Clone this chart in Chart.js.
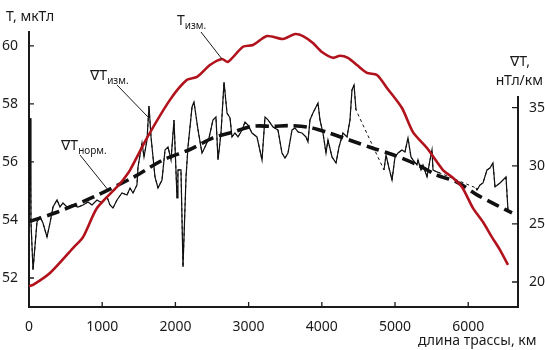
<!DOCTYPE html>
<html>
<head>
<meta charset="utf-8">
<script src="https://cdn.jsdelivr.net/npm/chart.js@4.4.0/dist/chart.umd.min.js"></script>
<style>
  body { margin: 0; background: #fff; }
  #wrap { width: 545px; height: 350px; }
</style>
</head>
<body>
<div id="wrap"><canvas id="chart" width="545" height="350"></canvas></div>
<script>
// Тизм. — измеренное поле, мкТл
var tKm = [0, 55, 287, 601, 738, 929, 1202, 1284, 1380, 1612, 1926, 2158, 2295, 2472, 2636, 2718, 2923, 3060,
  3251, 3470, 3634, 3743, 3879, 4002, 4153, 4248, 4357, 4480, 4617, 4754, 4890, 5095, 5245, 5437, 5655, 5778,
  5915, 6065, 6202, 6324, 6434, 6543];
var tMeasured = [51.72, 51.76, 52.17, 53.03, 53.41, 54.41, 55.14, 55.38, 55.72, 56.83, 58.14, 58.83, 58.93, 59.34,
  59.55, 59.45, 59.97, 60.03, 60.34, 60.24, 60.41, 60.34, 60.1, 59.79, 59.59, 59.66, 59.59, 59.34, 59.07, 59.0,
  58.55, 57.86, 57.03, 56.48, 55.72, 55.48, 55.14, 54.41, 53.93, 53.41, 52.97, 52.45];

// ∇Тизм. — измеренный градиент, нТл/км (null = пропуск в данных)
var gradKm = [0, 14, 27, 55, 109, 150, 191, 246, 287, 328, 383, 423, 464, 519, 587, 669, 738, 806, 861, 929, 997,
  1066, 1106, 1147, 1202, 1270, 1339, 1380, 1421, 1475, 1489, 1544, 1571, 1612, 1639, 1667, 1694, 1721, 1762,
  1817, 1858, 1899, 1940, 1981, 2022, 2035, 2076, 2104, 2145, 2172, 2227, 2254, 2309, 2363, 2404, 2459, 2513,
  2554, 2582, 2623, 2664, 2705, 2746, 2773, 2814, 2855, 2910, 2951, 2992, 3046, 3114, 3183, 3224, 3265, 3333,
  3401, 3456, 3497, 3538, 3593, 3634, 3675, 3729, 3784, 3811, 3838, 3879, 3948, 3975, 4016, 4057, 4084, 4139,
  4194, 4235, 4289, 4344, 4385, 4412, 4440, 4467, 4650, 4849, 4877, 4918, 4959, 5000, 5041, 5095, 5136, 5177,
  5218, 5245, 5300, 5314, 5355, 5382, 5437, 5478, 5505, 5519, 5573, 5614, 5850, 6106, 6120, 6161, 6202, 6256,
  6297, 6338, 6366, 6434, 6475, 6516, 6543];
var gradMeasured = [25.16, 34.1, 25.16, 21.03, 25.16, 25.6, 25.08, 23.87, 25.08, 26.45, 27.06, 26.45, 26.8, 26.45,
  26.63, 26.45, 26.63, 26.88, 26.63, 27.06, 26.8, 27.32, 26.63, 26.37, 27.06, 27.66, 27.49, 28.09, 27.66, 28.35,
  29.9, 31.96, 30.76, 32.22, 35.15, 32.48, 30.76, 29.04, 28.09, 28.78, 31.36, 31.62, 30.5, 33.94, 27.23, 29.64,
  29.64, 21.29, 29.04, 31.62, 35.06, 35.49, 33.08, 31.1, 31.62, 32.39, 33.94, 34.2, 30.5, 32.82, 37.21, 34.54,
  34.11, 32.48, 32.82, 32.48, 33.08, 33.77, 33.51, 32.82, 32.48, 30.5, 34.2, 33.95, 33.34, 33.08, 31.1, 30.67,
  31.1, 33.08, 33.25, 32.91, 32.82, 32.48, 32.05, 33.94, 34.54, 35.4, 33.94, 32.82, 31.1, 32.22, 30.76, 30.24,
  31.62, 32.82, 32.48, 33.94, 36.52, 36.95, 34.8, null, 29.64, 30.92, 29.8, 28.78, 30.76, 31.1, 31.36, 31.19,
  32.39, 30.76, 30.5, 30.07, 30.5, 29.64, 30.07, 29.04, 30.5, 31.36, 29.64, 29.47, 29.38, null, 28.09, 27.92,
  28.35, 28.52, 29.64, 29.81, 30.24, 28.18, 28.52, 28.78, 29.04, 26.2];

// ∇Тнорм. — нормальный градиент, нТл/км
var normKm = [0, 382, 874, 1421, 1830, 2199, 2513, 2787, 3060, 3333, 3565, 3838, 4112, 4385, 4658, 4972, 5300,
  5573, 5846, 6120, 6393, 6598];
var gradNorm = [25.2, 26.0, 27.3, 29.0, 30.5, 31.4, 32.4, 32.9, 33.4, 33.4, 33.45, 33.3, 32.8, 32.2, 31.6, 30.95,
  30.1, 29.2, 28.6, 27.5, 26.6, 25.95];

var xTicks = [0, 1000, 2000, 3000, 4000, 5000, 6000];
var tTicks = [52, 54, 56, 58, 60];
var gradTicks = [20, 25, 30, 35];

function pts(xs, ys) {
  return xs.map(function(x, i) { return { x: x, y: ys[i] }; });
}

var FONT = "'Noto Sans', 'DejaVu Sans', sans-serif";
var INK = '#1a1a1a';

// подписи, выноски и внутренние засечки осей
var overlay = {
  id: 'overlay',
  afterDraw: function(chart) {
    var ctx = chart.ctx, a = chart.chartArea;
    var sx = chart.scales.x, sT = chart.scales.yT, sG = chart.scales.yG;
    ctx.save();
    ctx.strokeStyle = INK;
    ctx.fillStyle = INK;

    // правая ось — только до 36
    ctx.lineWidth = 2;
    ctx.beginPath();
    ctx.moveTo(a.right, sG.getPixelForValue(36));
    ctx.lineTo(a.right, a.bottom + 1);
    ctx.stroke();

    ctx.lineWidth = 1.3;
    ctx.beginPath();
    tTicks.forEach(function(v) { var p = sT.getPixelForValue(v); ctx.moveTo(a.left, p); ctx.lineTo(a.left + 5, p); });
    gradTicks.forEach(function(v) { var p = sG.getPixelForValue(v); ctx.moveTo(a.right - 6, p); ctx.lineTo(a.right, p); });
    xTicks.forEach(function(v) { var p = sx.getPixelForValue(v); ctx.moveTo(p, a.bottom); ctx.lineTo(p, a.bottom - 5); });
    ctx.stroke();

    // выноски
    ctx.lineWidth = 1;
    ctx.beginPath();
    ctx.moveTo(201, 32); ctx.lineTo(sx.getPixelForValue(2636), sT.getPixelForValue(59.55));
    ctx.moveTo(117, 85); ctx.lineTo(sx.getPixelForValue(1625), sG.getPixelForValue(34.2));
    ctx.moveTo(80, 155); ctx.lineTo(sx.getPixelForValue(1070), sG.getPixelForValue(28.0));
    ctx.stroke();

    function sub(main, small, x, y) {
      ctx.font = '14px ' + FONT;
      ctx.textAlign = 'left';
      ctx.fillText(main, x, y);
      var w = ctx.measureText(main).width;
      ctx.font = '10px ' + FONT;
      ctx.fillText(small, x + w, y + 4);
    }
    ctx.textBaseline = 'alphabetic';
    sub('T', 'изм.', 177, 25);
    sub('∇T', 'изм.', 90, 80);
    sub('∇T', 'норм.', 61, 150);

    ctx.font = '14px ' + FONT;
    ctx.textAlign = 'left';
    ctx.fillText('Т, мкТл', 6, 21);
    ctx.fillText('длина трассы, км', 418, 345);
    ctx.textAlign = 'right';
    ctx.fillText('∇T,', 530, 66);
    ctx.fillText('нТл/км', 543, 85);
    ctx.restore();
  }
};

var ctx = document.getElementById('chart').getContext('2d');
var chart = new Chart(ctx, {
  type: 'line',
  data: {
    datasets: [
      {
        label: 'Тизм.',
        data: pts(tKm, tMeasured),
        yAxisID: 'yT',
        borderColor: '#b1121c',
        borderWidth: 2.6,
        tension: 0.25,
        pointRadius: 0,
        order: 0
      },
      {
        label: '∇Тнорм.',
        data: pts(normKm, gradNorm),
        yAxisID: 'yG',
        borderColor: '#111',
        borderWidth: 3.6,
        borderDash: [13, 6],
        tension: 0.3,
        pointRadius: 0,
        order: 1
      },
      {
        label: '∇Тизм.',
        data: pts(gradKm, gradMeasured),
        yAxisID: 'yG',
        borderColor: '#111',
        borderWidth: 1.2,
        tension: 0,
        spanGaps: false,
        pointRadius: 0,
        order: 2
      },
      {
        label: '∇Тизм. (пропуск)',
        data: pts(gradKm, gradMeasured),
        yAxisID: 'yG',
        borderColor: '#111',
        borderWidth: 1,
        borderDash: [3, 3],
        tension: 0,
        spanGaps: true,
        pointRadius: 0,
        order: 3
      }
    ]
  },
  options: {
    responsive: false,
    animation: false,
    devicePixelRatio: 1,
    layout: { padding: { left: 0, right: 0, top: 32, bottom: 0 } },
    plugins: { legend: { display: false }, tooltip: { enabled: false } },
    scales: {
      x: {
        type: 'linear',
        min: 0,
        max: 6680,
        grid: { display: false },
        border: { display: true, color: INK, width: 2 },
        afterBuildTicks: function(s) { s.ticks = xTicks.map(function(v) { return { value: v }; }); },
        afterFit: function(s) { s.height = 43; },
        ticks: { color: INK, font: { family: FONT, size: 14 }, padding: 4, maxRotation: 0,
          callback: function(v) { return String(v); } }
      },
      yT: {
        position: 'left',
        min: 51.0,
        max: 60.48,
        grid: { display: false },
        border: { display: true, color: INK, width: 2 },
        afterBuildTicks: function(s) { s.ticks = tTicks.map(function(v) { return { value: v }; }); },
        afterFit: function(s) { s.width = 29; },
        ticks: { color: INK, font: { family: FONT, size: 14 }, padding: 3,
          callback: function(v) { return String(v); } }
      },
      yG: {
        position: 'right',
        min: 17.85,
        max: 41.51,
        grid: { display: false },
        border: { display: false },
        afterBuildTicks: function(s) { s.ticks = gradTicks.map(function(v) { return { value: v }; }); },
        afterFit: function(s) { s.width = 27; },
        ticks: { color: INK, font: { family: FONT, size: 14 }, padding: 3,
          callback: function(v) { return String(v); } }
      }
    }
  },
  plugins: [overlay]
});
</script>
</body>
</html>
